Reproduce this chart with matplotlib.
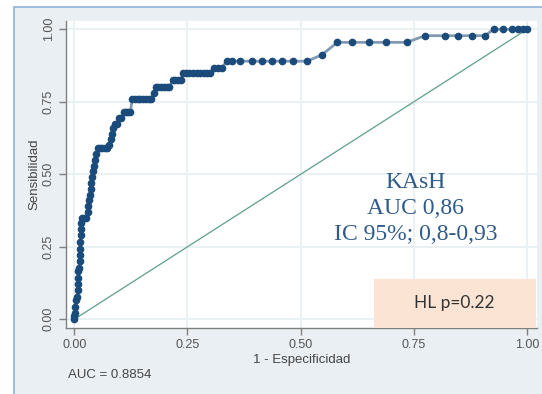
import matplotlib
matplotlib.use("Agg")
import matplotlib.pyplot as plt
from matplotlib.patches import Rectangle

# ROC points (1 - specificity, sensitivity)
fpr = [0, 0, 0.002, 0.002, 0.003, 0.006, 0.008, 0.008, 0.009, 0.009, 0.010,
       0.012, 0.013, 0.013, 0.013, 0.014, 0.014, 0.015, 0.016, 0.021, 0.026,
       0.030, 0.031, 0.033, 0.035, 0.036, 0.038, 0.040, 0.042, 0.044, 0.046,
       0.048, 0.052, 0.057, 0.062, 0.067, 0.072, 0.076, 0.080, 0.083, 0.086,
       0.090, 0.095, 0.099, 0.104, 0.109, 0.114, 0.119, 0.124, 0.128, 0.134,
       0.140, 0.146, 0.152, 0.158, 0.164, 0.170, 0.176, 0.180, 0.186, 0.192,
       0.198, 0.204, 0.210, 0.217, 0.223, 0.229, 0.235, 0.240, 0.247, 0.254,
       0.262, 0.270, 0.278, 0.286, 0.294, 0.300, 0.308, 0.318, 0.326, 0.337,
       0.348, 0.366, 0.392, 0.414, 0.436, 0.458, 0.484, 0.514, 0.547, 0.581,
       0.613, 0.650, 0.689, 0.734, 0.775, 0.819, 0.848, 0.878, 0.907, 0.926,
       0.948, 0.966, 0.981, 0.992, 1.0]
tpr = [0, 0.011, 0.022, 0.044, 0.067, 0.078, 0.100, 0.122, 0.144, 0.167, 0.178,
       0.200, 0.222, 0.244, 0.267, 0.289, 0.311, 0.333, 0.348, 0.348, 0.348,
       0.370, 0.390, 0.410, 0.430, 0.450, 0.470, 0.490, 0.510, 0.530, 0.550,
       0.570, 0.590, 0.590, 0.590, 0.590, 0.590, 0.600, 0.620, 0.640, 0.660,
       0.675, 0.675, 0.695, 0.695, 0.715, 0.715, 0.715, 0.715, 0.760, 0.760,
       0.760, 0.760, 0.760, 0.760, 0.760, 0.760, 0.780, 0.800, 0.800, 0.800,
       0.800, 0.800, 0.800, 0.825, 0.825, 0.825, 0.825, 0.848, 0.848, 0.848,
       0.848, 0.848, 0.848, 0.848, 0.848, 0.848, 0.868, 0.868, 0.868, 0.890,
       0.890, 0.890, 0.890, 0.890, 0.890, 0.890, 0.890, 0.890, 0.912, 0.955,
       0.955, 0.955, 0.955, 0.955, 0.978, 0.978, 0.978, 0.978, 0.978, 1.0,
       1.0, 1.0, 1.0, 1.0, 1.0]

ticks = [0, 0.25, 0.5, 0.75, 1.0]
tick_labels = ["0.00", "0.25", "0.50", "0.75", "1.00"]
auc_stata = "AUC = 0.8854"
note_lines = ["KAsH", "AUC 0,86", "IC 95%; 0,8-0,93"]
hl_text = "HL p=0.22"

plt.rcParams["font.family"] = ["Liberation Sans", "DejaVu Sans"]

W, H = 542, 394
fig = plt.figure(figsize=(W / 100, H / 100), dpi=100, facecolor="white")

# outer panel with thin blue border on left and top
fig.patches.append(Rectangle((14 / W, -0.05), 1.1, (H - 7) / H + 0.05,
                             transform=fig.transFigure, facecolor="#e9eff3",
                             edgecolor="#8fb2da", lw=1.2, zorder=-5))

ax = fig.add_axes([66 / W, (H - 328) / H, (537 - 66) / W, (328 - 21) / H])
ax.set_facecolor("white")
ax.set_xlim(-0.0183, 1.022)
ax.set_ylim(-0.030, 1.0286)

for t in ticks:
    ax.axhline(t, color="#eaf1f5", lw=1.4, zorder=0)
    ax.axvline(t, color="#eaf1f5", lw=1.4, zorder=0)

ax.plot([0, 1], [0, 1], color="#5e9e8c", lw=0.9, zorder=2)
ax.plot(fpr, tpr, color="#8399b1", lw=2.0, zorder=3)
ax.plot(fpr, tpr, ls="none", marker="o", ms=4.5, color="#1b4b7a", zorder=4)

for s in ["top", "right"]:
    ax.spines[s].set_visible(False)
for s in ["left", "bottom"]:
    ax.spines[s].set_color("#808080")
    ax.spines[s].set_linewidth(1.0)

ax.set_xticks(ticks)
ax.set_xticklabels(tick_labels)
ax.set_yticks(ticks)
ax.set_yticklabels(tick_labels, rotation=90, va="center")
ax.tick_params(axis="both", colors="#808080", labelcolor="#555555",
               labelsize=9, length=5, width=1, direction="out", pad=3)
ax.set_xlabel("1 - Especificidad", fontsize=9.5, color="#444444", labelpad=2)
ax.set_ylabel("Sensibilidad", fontsize=9.5, color="#444444", labelpad=2)

fig.text(68 / W, 1 - 375 / H, auc_stata, fontsize=9.5, color="#444444",
         ha="left", va="center")

for i, line in enumerate(note_lines):
    ax.text(0.754, 0.472 - i * 0.0896, line, family="Liberation Serif",
            fontsize=17, color="#2f5b8c", ha="center", va="center", zorder=6)

ax.add_patch(Rectangle((0.654, 0.0), 0.343, 0.16, transform=ax.transAxes,
                       facecolor="#fce4d5", edgecolor="none", clip_on=False,
                       zorder=6))
ax.text(0.825, 0.083, hl_text, transform=ax.transAxes, family="Lato",
        fontsize=12.5, color="#333333", ha="center", va="center", zorder=7)

fig.savefig("out.png", dpi=100, facecolor=fig.get_facecolor())
